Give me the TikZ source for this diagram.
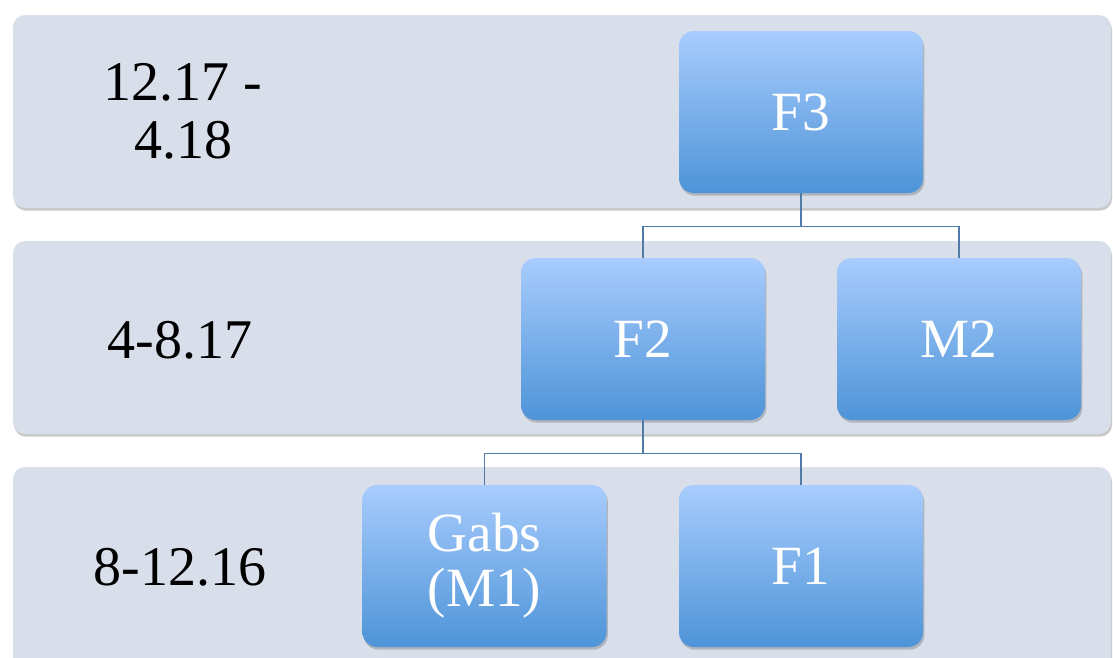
\documentclass[tikz,border=0pt]{standalone}
\usepackage{fontspec}
\setmainfont{Liberation Serif}
\usetikzlibrary{shadows}
\definecolor{bandfill}{RGB}{217,222,235}
\definecolor{boxtop}{RGB}{168,204,253}
\definecolor{boxbot}{RGB}{78,148,216}
\definecolor{conn}{RGB}{80,122,168}
\tikzset{
  band/.style={fill=bandfill, rounded corners=9pt,
    drop shadow={shadow xshift=0.8pt, shadow yshift=-2pt, opacity=0.35, fill=black!60}},
  orgbox/.style={rounded corners=11pt, top color=boxtop, bottom color=boxbot, draw=none,
    minimum width=183pt, minimum height=121.5pt, inner sep=0pt, text=white, align=center,
    font=\fontsize{41.5}{41.5}\selectfont,
    drop shadow={shadow xshift=1pt, shadow yshift=-2pt, opacity=0.35, fill=black!60}},
  datelabel/.style={align=center, text=black, inner sep=0pt, font=\fontsize{42}{43.5}\selectfont},
  link/.style={draw=conn, line width=1.1pt}
}
\begin{document}
\begin{tikzpicture}[x=0.75pt,y=-0.75pt]
\useasboundingbox (0,0) rectangle (1113,657);
\clip (0,0) rectangle (1113,657);
\fill[white] (0,0) rectangle (1113,657);
% bands
\path[band] (13,15) rectangle (1111,208);
\path[band] (13,241) rectangle (1111,434);
\path[band] (13,467) rectangle (1111,720);
% date labels
\node[datelabel] (d1) at (183,111) {12.17 -\\4.18};
\node[datelabel] (d2) at (180,340) {4-8.17};
\node[datelabel] (d3) at (180,567) {8-12.16};
% boxes
\node[orgbox] (F3) at (801,112) {F3};
\node[orgbox] (F2) at (643,339) {F2};
\node[orgbox] (M2) at (959,339) {M2};
\node[orgbox] (G) at (484.5,566) {Gabs\\(M1)};
\node[orgbox] (F1) at (801,566) {F1};
% connectors
\draw[link] (F3.south) -- ++(0,33) -| (F2.north);
\draw[link] (F3.south) -- ++(0,33) -| (M2.north);
\draw[link] (F2.south) -- ++(0,33) -| (G.north);
\draw[link] (F2.south) -- ++(0,33) -| (F1.north);
\end{tikzpicture}
\end{document}
